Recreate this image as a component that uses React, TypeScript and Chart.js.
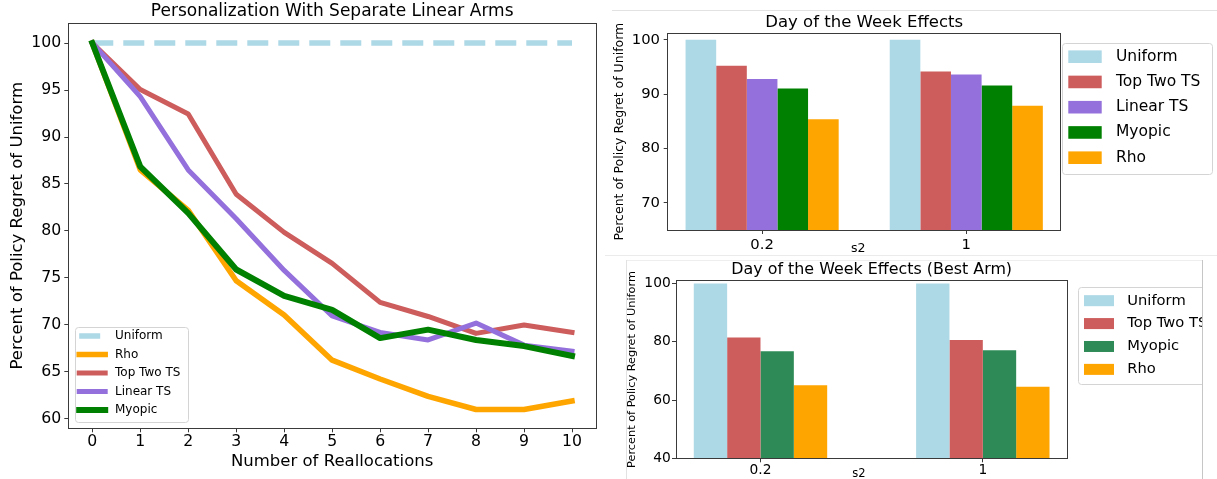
import React, { useEffect, useRef } from 'react';
import { Chart, registerables } from 'chart.js';

Chart.register(...registerables);

const FONT = "'DejaVu Sans', 'Liberation Sans', sans-serif";
Chart.defaults.font.family = FONT;
Chart.defaults.color = '#000';

// ---------------- data: left line chart ----------------
const reallocations = ['0', '1', '2', '3', '4', '5', '6', '7', '8', '9', '10'];
const uniformLine = [100, 100, 100, 100, 100, 100, 100, 100, 100, 100, 100];
const rhoLine = [100, 86.5, 82.2, 74.7, 71.05, 66.25, 64.25, 62.4, 61.0, 61.0, 61.9];
const topTwoLine = [100, 95.05, 92.45, 83.9, 79.85, 76.55, 72.4, 70.9, 69.1, 70.0, 69.2];
const linearTSLine = [100, 94.3, 86.5, 81.3, 75.8, 70.95, 69.2, 68.4, 70.2, 67.85, 67.2];
const myopicLine = [100, 86.85, 81.9, 75.9, 73.1, 71.6, 68.6, 69.5, 68.4, 67.75, 66.7];

// ---------------- data: Day of the Week Effects ----------------
const s2Values = ['0.2', '1'];
const dowUniform = [100, 100];
const dowTopTwo = [95.25, 94.15];
const dowLinearTS = [92.8, 93.6];
const dowMyopic = [91.05, 91.6];
const dowRho = [85.4, 87.85];

// ---------------- data: Day of the Week Effects (Best Arm) ----------------
const bestUniform = [100, 100];
const bestTopTwo = [81.5, 80.6];
const bestMyopic = [76.8, 77.1];
const bestRho = [65.1, 64.6];

const AXIS = '#3a3a3a';

function framePlugin() {
  return {
    id: 'frame',
    afterDatasetsDraw(chart: any) {
      const { ctx, chartArea: a } = chart;
      ctx.save();
      ctx.strokeStyle = AXIS;
      ctx.lineWidth = 1;
      const l = Math.floor(a.left) + 0.5;
      const t = Math.floor(a.top) + 0.5;
      const r = Math.floor(a.right) + 0.5;
      const b = Math.floor(a.bottom) + 0.5;
      ctx.strokeRect(l, t, r - l, b - t);
      ctx.restore();
    },
  };
}

interface LegendCfg {
  items: string[];
  anchor: 'left' | 'right';
  dx: number;
  top?: number;
  bottom?: number;
  w: number;
  h: number;
  rowTop: number;
  rowStep: number;
  swX: number;
  swW: number;
  swH?: number;
  textX: number;
  fontSize: number;
  kind: 'line' | 'rect';
}

function legendPlugin(cfg: LegendCfg) {
  return {
    id: 'mplLegend',
    afterDraw(chart: any) {
      const { ctx, chartArea: a } = chart;
      const x0 = (cfg.anchor === 'right' ? a.right : a.left) + cfg.dx;
      const y0 = cfg.bottom !== undefined ? a.bottom - cfg.bottom - cfg.h : a.top + (cfg.top || 0);
      ctx.save();
      ctx.fillStyle = 'rgba(255,255,255,0.85)';
      ctx.strokeStyle = '#d4d4d4';
      ctx.lineWidth = 1;
      const bx = Math.round(x0) + 0.5;
      const by = Math.round(y0) + 0.5;
      ctx.beginPath();
      if ((ctx as any).roundRect) (ctx as any).roundRect(bx, by, Math.round(cfg.w), Math.round(cfg.h), 3);
      else ctx.rect(bx, by, Math.round(cfg.w), Math.round(cfg.h));
      ctx.fill();
      ctx.stroke();
      ctx.font = `${cfg.fontSize}px ${FONT}`;
      ctx.textBaseline = 'middle';
      ctx.textAlign = 'left';
      cfg.items.forEach((label, i) => {
        const ds = chart.data.datasets.find((d: any) => d.label === label);
        if (!ds) return;
        const cy = y0 + cfg.rowTop + i * cfg.rowStep;
        if (cfg.kind === 'line') {
          ctx.strokeStyle = ds.borderColor;
          ctx.lineWidth = ds.borderWidth;
          const dashed = Array.isArray(ds.borderDash) && ds.borderDash.length > 0;
          ctx.setLineDash(dashed ? ds.borderDash : []);
          ctx.lineCap = dashed ? 'butt' : 'square';
          ctx.beginPath();
          ctx.moveTo(x0 + cfg.swX, cy);
          ctx.lineTo(x0 + cfg.swX + cfg.swW, cy);
          ctx.stroke();
          ctx.setLineDash([]);
        } else {
          ctx.fillStyle = ds.backgroundColor;
          const h = cfg.swH || 12;
          ctx.fillRect(x0 + cfg.swX, cy - h / 2, cfg.swW, h);
        }
        ctx.fillStyle = '#000';
        ctx.fillText(label, x0 + cfg.textX, cy);
      });
      ctx.restore();
    },
  };
}

const tickGrid = {
  display: true,
  drawOnChartArea: false,
  drawTicks: true,
  tickLength: 4,
  tickColor: AXIS,
  color: AXIS,
  lineWidth: 1,
  offset: false,
};

function lineConfig(): any {
  const base = { pointRadius: 0, tension: 0, fill: false, borderJoinStyle: 'round' };
  return {
    type: 'line',
    data: {
      labels: reallocations,
      datasets: [
        { ...base, label: 'Uniform', data: uniformLine, borderColor: '#add8e6', borderWidth: 5.5, borderDash: [21, 10], borderCapStyle: 'butt', order: 5 },
        { ...base, label: 'Rho', data: rhoLine, borderColor: '#ffa500', borderWidth: 5.5, borderCapStyle: 'square', order: 4 },
        { ...base, label: 'Top Two TS', data: topTwoLine, borderColor: '#cd5c5c', borderWidth: 5, borderCapStyle: 'square', order: 3 },
        { ...base, label: 'Linear TS', data: linearTSLine, borderColor: '#9370db', borderWidth: 5, borderCapStyle: 'square', order: 2 },
        { ...base, label: 'Myopic', data: myopicLine, borderColor: '#008000', borderWidth: 6, borderCapStyle: 'square', order: 1 },
      ],
    },
    options: {
      responsive: false,
      animation: false,
      devicePixelRatio: 1,
      events: [],
      layout: { padding: { left: 0, right: 9, top: 0, bottom: 0 } },
      plugins: {
        legend: { display: false },
        tooltip: { enabled: false },
        title: {
          display: true,
          fullSize: false,
          text: 'Personalization With Separate Linear Arms',
          color: '#000',
          font: { size: 17, weight: 'normal', lineHeight: 1.2 },
          padding: { top: 1.3, bottom: 1.6 },
        },
      },
      scales: {
        x: {
          type: 'category',
          offset: true,
          grid: tickGrid,
          border: { display: false },
          ticks: { color: '#000', font: { size: 15.7, lineHeight: 1 }, padding: 1.5, maxRotation: 0, autoSkip: false },
          title: { display: true, text: 'Number of Reallocations', color: '#000', font: { size: 16.5, lineHeight: 1.2 }, padding: { top: 0, bottom: 7.4 } },
          afterFit: (s: any) => { s.height = 479 - 428.3; },
        },
        y: {
          type: 'linear',
          min: 59,
          max: 102.1,
          grid: tickGrid,
          border: { display: false },
          ticks: { stepSize: 5, includeBounds: false, color: '#000', font: { size: 15.7, lineHeight: 1 }, padding: 3 },
          title: { display: true, text: 'Percent of Policy Regret of Uniform', color: '#000', font: { size: 16.5, lineHeight: 1.2 }, padding: { top: 7.6, bottom: 0 } },
          afterFit: (s: any) => { s.width = 68.3; },
        },
      },
    },
    plugins: [
      framePlugin(),
      legendPlugin({
        items: ['Uniform', 'Rho', 'Top Two TS', 'Linear TS', 'Myopic'],
        anchor: 'left', dx: 6.7, bottom: 6.6, w: 113.3, h: 95,
        rowTop: 9.3, rowStep: 18.5, swX: 4.2, swW: 26, textX: 40, fontSize: 12, kind: 'line',
      }),
    ],
  };
}

function barDataset(label: string, values: number[], color: string) {
  return {
    label,
    data: values.map((v, i) => ({ x: i, y: v })),
    backgroundColor: color,
    borderWidth: 0,
  };
}

function topBarConfig(): any {
  return {
    type: 'bar',
    data: {
      datasets: [
        barDataset('Uniform', dowUniform, '#add8e6'),
        barDataset('Top Two TS', dowTopTwo, '#cd5c5c'),
        barDataset('Linear TS', dowLinearTS, '#9370db'),
        barDataset('Myopic', dowMyopic, '#008000'),
        barDataset('Rho', dowRho, '#ffa500'),
      ],
    },
    options: {
      responsive: false,
      animation: false,
      devicePixelRatio: 1,
      events: [],
      datasets: { bar: { categoryPercentage: 0.75, barPercentage: 1 } },
      layout: { padding: { left: 0, right: 612 - 455.7, top: 0, bottom: 0 } },
      plugins: {
        legend: { display: false },
        tooltip: { enabled: false },
        title: {
          display: true,
          fullSize: false,
          text: 'Day of the Week Effects',
          color: '#000',
          font: { size: 16.5, weight: 'normal', lineHeight: 1.2 },
          padding: { top: 13.1, bottom: 0.4 },
        },
      },
      scales: {
        x: {
          type: 'linear',
          min: -0.4625,
          max: 1.4625,
          offset: false,
          grid: tickGrid,
          border: { display: false },
          ticks: {
            stepSize: 1, includeBounds: false, color: '#000', font: { size: 14.8, lineHeight: 1 }, padding: 3.6,
            maxRotation: 0, autoSkip: false,
            callback: (v: any) => (s2Values[v] !== undefined ? s2Values[v] : ''),
          },
          title: { display: true, text: 's2   ', color: '#000', font: { size: 12.5, lineHeight: 1.2 }, padding: { top: 0, bottom: 2.2 } },
          afterFit: (s: any) => { s.height = 258 - 230; },
        },
        y: {
          type: 'linear',
          min: 65,
          max: 101.2,
          beginAtZero: false,
          grid: tickGrid,
          border: { display: false },
          ticks: { stepSize: 10, includeBounds: false, color: '#000', font: { size: 14.8, lineHeight: 1 }, padding: 3.7 },
          title: { display: true, text: 'Percent of Policy Regret of Uniform', color: '#000', font: { size: 12.5, lineHeight: 1.2 }, padding: { top: 7, bottom: 0 } },
          afterFit: (s: any) => { s.width = 62.7; },
        },
      },
    },
    plugins: [
      framePlugin(),
      legendPlugin({
        items: ['Uniform', 'Top Two TS', 'Linear TS', 'Myopic', 'Rho'],
        anchor: 'right', dx: 1, top: 10, w: 150, h: 130.7,
        rowTop: 13.4, rowStep: 25.25, swX: 6.6, swW: 33.4, swH: 12.6, textX: 54.3, fontSize: 15.5, kind: 'rect',
      }),
    ],
  };
}

function bottomBarConfig(): any {
  return {
    type: 'bar',
    data: {
      datasets: [
        barDataset('Uniform', bestUniform, '#add8e6'),
        barDataset('Top Two TS', bestTopTwo, '#cd5c5c'),
        barDataset('Myopic', bestMyopic, '#2e8b57'),
        barDataset('Rho', bestRho, '#ffa500'),
      ],
    },
    options: {
      responsive: false,
      animation: false,
      devicePixelRatio: 1,
      events: [],
      datasets: { bar: { categoryPercentage: 0.6, barPercentage: 1 } },
      layout: { padding: { left: 0, right: 612 - 462.3, top: 0, bottom: 0 } },
      plugins: {
        legend: { display: false },
        tooltip: { enabled: false },
        title: {
          display: true,
          fullSize: false,
          text: 'Day of the Week Effects (Best Arm)',
          color: '#000',
          font: { size: 15.9, weight: 'normal', lineHeight: 1.2 },
          padding: { top: 4.9, bottom: 1.7 },
        },
      },
      scales: {
        x: {
          type: 'linear',
          min: -0.38,
          max: 1.38,
          offset: false,
          grid: tickGrid,
          border: { display: false },
          ticks: {
            stepSize: 1, includeBounds: false, color: '#000', font: { size: 13.8, lineHeight: 1 }, padding: 0.9,
            maxRotation: 0, autoSkip: false,
            callback: (v: any) => (s2Values[v] !== undefined ? s2Values[v] : ''),
          },
          title: { display: true, text: 's2       ', color: '#000', font: { size: 11.5, lineHeight: 1.2 }, padding: { top: 0, bottom: 14.2 } },
          afterFit: (s: any) => { s.height = 240 - 203.3; },
        },
        y: {
          type: 'linear',
          min: 40,
          max: 101,
          beginAtZero: false,
          grid: tickGrid,
          border: { display: false },
          ticks: { stepSize: 20, includeBounds: false, color: '#000', font: { size: 13.8, lineHeight: 1 }, padding: 1.3 },
          title: { display: true, text: 'Percent of Policy Regret of Uniform', color: '#000', font: { size: 11.3, lineHeight: 1.2 }, padding: { top: 19.9, bottom: 0 } },
          afterFit: (s: any) => { s.width = 71; },
        },
      },
    },
    plugins: [
      framePlugin(),
      legendPlugin({
        items: ['Uniform', 'Top Two TS', 'Myopic', 'Rho'],
        anchor: 'right', dx: 11, top: 6.6, w: 150, h: 96.7,
        rowTop: 13.4, rowStep: 22.9, swX: 5.7, swW: 30, swH: 11, textX: 49, fontSize: 14.7, kind: 'rect',
      }),
    ],
  };
}

function ChartCanvas({ make, width, height }: { make: () => any; width: number; height: number }) {
  const ref = useRef<HTMLCanvasElement>(null);
  useEffect(() => {
    if (!ref.current) return;
    const chart = new Chart(ref.current, make());
    return () => chart.destroy();
  }, []);
  return <canvas ref={ref} width={width} height={height} style={{ display: 'block', width, height }} />;
}

export default function App() {
  const abs = (l: number, t: number, w: number, h: number, extra: any = {}) => ({
    position: 'absolute' as const, left: l, top: t, width: w, height: h, ...extra,
  });
  return (
    <div style={abs(0, 0, 1217, 479, { background: '#fff', overflow: 'hidden' })}>
      <div style={abs(0, 0, 605, 479)}>
        <ChartCanvas make={lineConfig} width={605} height={479} />
      </div>
      <div style={abs(605, 0, 612, 255, { overflow: 'hidden' })}>
        <ChartCanvas make={topBarConfig} width={612} height={258} />
      </div>
      <div style={abs(605, 255, 598, 224, { overflow: 'hidden' })}>
        <ChartCanvas make={bottomBarConfig} width={612} height={240} />
      </div>
      <div style={abs(612, 10, 605, 1, { background: '#e2e2e2' })} />
      <div style={abs(605, 255, 612, 1, { background: '#ebebeb' })} />
      <div style={abs(626, 260, 577, 1, { background: '#eeeeee' })} />
      <div style={abs(626, 260, 1, 219, { background: '#e2e2e2' })} />
      <div style={abs(1202, 260, 1, 219, { background: '#c6c6c6' })} />
    </div>
  );
}
